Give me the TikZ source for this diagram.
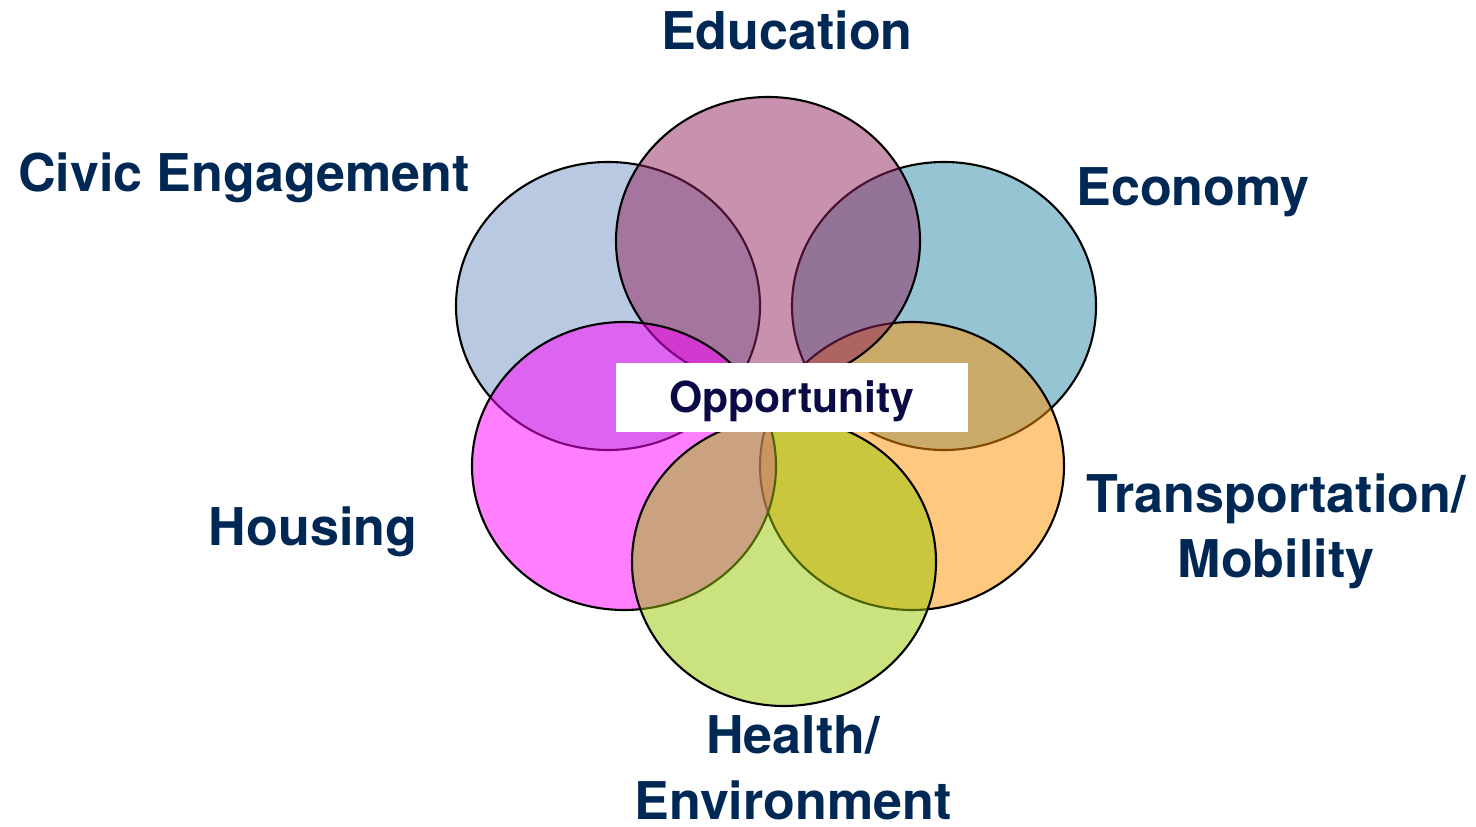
\documentclass[tikz,border=0pt]{standalone}
\usepackage{fontspec}
\setmainfont{TeX Gyre Heros}
\definecolor{labelblue}{RGB}{0,40,85}
\definecolor{oppblue}{RGB}{10,10,70}
\definecolor{civic}{RGB}{115,147,197}
\definecolor{educ}{RGB}{145,35,93}
\definecolor{econ}{RGB}{45,137,167}
\definecolor{house}{RGB}{255,0,255}
\definecolor{transp}{RGB}{255,145,0}
\definecolor{health}{RGB}{151,199,0}
\begin{document}
\begin{tikzpicture}[
  area/.style={draw=black, line width=0.6pt, fill opacity=0.5},
  topic/.style={font=\bfseries\fontsize{14.8}{18.5}\selectfont, text=labelblue, inner sep=0pt, align=center, anchor=base}]
  \useasboundingbox (0,0) rectangle (14.76,8.26);

  % areas, back to front
  \foreach \x/\y/\col in {6.08/5.20/civic, 9.44/5.20/econ, 9.12/3.60/transp,
                          7.68/5.85/educ, 6.24/3.60/house, 7.84/2.64/health}{
    \filldraw[area, fill=\col] (\x,\y) ellipse [x radius=1.52, y radius=1.44];
  }

  \node[fill=white, minimum width=3.52cm, minimum height=0.69cm, inner sep=0pt,
        text height=0.40cm, text depth=0.09cm,
        text=oppblue, font=\bfseries\fontsize{12.15}{14}\selectfont] (opp) at (7.92,4.285) {Opportunity};

  % labels (base = last line)
  \node[topic] (educlabel) at (7.87,7.76) {Education};
  \node[topic] (civiclabel) at (2.44,6.34) {Civic Engagement};
  \node[topic] (econlabel) at (11.93,6.20) {Economy};
  \node[topic] (houselabel) at (3.13,2.80) {Housing};
  \node[topic] (transplabel) at (12.76,2.48) {Transportation/\\Mobility};
  \node[topic] (healthlabel) at (7.93,0.07) {Health/\\Environment};
\end{tikzpicture}
\end{document}
